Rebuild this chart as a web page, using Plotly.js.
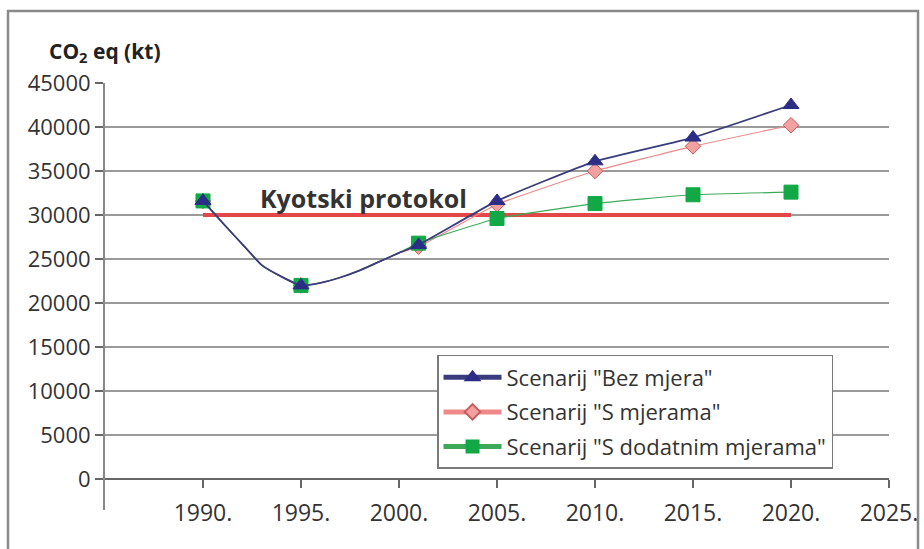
<!DOCTYPE html>
<html>
<head>
<meta charset="utf-8">
<script src="https://cdn.plot.ly/plotly-3.0.1.min.js"></script>
<style>
  html, body { margin: 0; padding: 0; background: #ffffff; }
  #chart { width: 924px; height: 549px; }
</style>
</head>
<body>
<div id="chart"></div>
<script>
// ---- data ----
// shared historical emissions (kt CO2 eq)
var histYears = [1990, 1991, 1992, 1993, 1994, 1995, 1996, 1997, 1998, 1999, 2000];
var histValues = [31600, 29100, 26700, 24300, 23000, 22000, 22300, 22900, 23700, 24700, 25700];

// scenario years and values
var scenYears = [2001, 2005, 2010, 2015, 2020];
var bezMjera = [26600, 31600, 36100, 38800, 42500];
var sMjerama = [26400, 31200, 35000, 37800, 40200];
var sDodatnim = [26800, 29600, 31300, 32300, 32600];

// years where markers are shown
var markedYears = [1990, 1995, 2001, 2005, 2010, 2015, 2020];

// Kyoto target
var kyotoYears = [1990, 2020];
var kyotoValues = [30000, 30000];

// series names
var seriesNames = ['Scenarij "Bez mjera"', 'Scenarij "S mjerama"', 'Scenarij "S dodatnim mjerama"'];

// axis ticks
var xTickVals = [1990, 1995, 2000, 2005, 2010, 2015, 2020, 2025];
var xTickText = ['1990.', '1995.', '2000.', '2005.', '2010.', '2015.', '2020.', '2025.'];
var yTickVals = [0, 5000, 10000, 15000, 20000, 25000, 30000, 35000, 40000, 45000];
var yTickText = ['0', '5000', '10000', '15000', '20000', '25000', '30000', '35000', '40000', '45000'];

// ---- build ----
var FONT = 'Open Sans, Noto Sans, sans-serif';

function series(scen, name, color, lineColor, symbol, size, lineW, mlineColor, rank) {
  var x = histYears.concat(scenYears);
  var y = histValues.concat(scen);
  var sizes = x.map(function (yr) { return markedYears.indexOf(yr) >= 0 ? size : 0; });
  return {
    x: x, y: y, name: name, type: 'scatter', mode: 'lines+markers',
    legendgroup: 'g' + rank,
    line: { color: lineColor, width: lineW, shape: 'spline', smoothing: 0.4 },
    marker: { symbol: symbol, size: sizes, color: color, opacity: 1, line: { color: mlineColor, width: 1 } },
    legendrank: rank, hoverinfo: 'x+y'
  };
}

var traces = [
  {
    x: kyotoYears, y: kyotoValues, type: 'scatter', mode: 'lines',
    line: { color: '#E2474A', width: 4 }, showlegend: false, hoverinfo: 'skip'
  },
  series(sMjerama, seriesNames[1], '#F2A0A0', '#F08A8A', 'diamond', 12, 1.2, '#C85A5A', 2),
  series(sDodatnim, seriesNames[2], '#12A846', '#3DAA5A', 'square', 14, 1.2, '#12A846', 3),
  series(bezMjera, seriesNames[0], '#2B2D86', '#3A3C7E', 'triangle-up', 14, 1.8, '#2B2D86', 1)
];

var yMin = -3520, yMax = 45000;
var xPos = (0 - yMin) / (yMax - yMin);

var layout = {
  width: 924, height: 549,
  margin: { l: 105, r: 35, t: 83, b: 39 },
  paper_bgcolor: '#ffffff', plot_bgcolor: '#ffffff',
  font: { family: FONT, color: '#333333', size: 20 },
  showlegend: true,
  legend: {
    x: 0.4235, y: 0.363, xanchor: 'left', yanchor: 'top',
    bgcolor: '#ffffff', bordercolor: '#7a7a7a', borderwidth: 1.5,
    font: { family: FONT, size: 22, color: '#333333' },
    itemsizing: 'constant', traceorder: 'grouped', tracegroupgap: 3,
    itemwidth: 58
  },
  xaxis: {
    range: [1985, 2025], anchor: 'free', position: xPos,
    tickvals: xTickVals, ticktext: xTickText,
    ticks: 'outside', ticklen: 8, tickwidth: 1.5, tickcolor: '#666',
    ticklabelstandoff: 5,
    showline: true, linecolor: '#666', linewidth: 2,
    showgrid: false, zeroline: false,
    tickfont: { family: FONT, size: 23, color: '#333' }
  },
  yaxis: {
    range: [yMin, yMax], tickvals: yTickVals, ticktext: yTickText,
    ticks: 'outside', ticklen: 8, tickwidth: 1.5, tickcolor: '#666',
    showline: true, linecolor: '#888', linewidth: 2,
    showgrid: true, gridcolor: '#9a9a9a', gridwidth: 2,
    zeroline: false,
    tickfont: { family: FONT, size: 22, color: '#333' }
  },
  annotations: [
    {
      text: '<b>CO<sub>2</sub> eq (kt)</b>', xref: 'paper', yref: 'paper',
      x: 0, y: 1.072, xanchor: 'center', yanchor: 'middle', showarrow: false,
      font: { family: FONT, size: 21, color: '#222' }
    },
    {
      text: '<b>Kyotski protokol</b>', xref: 'x', yref: 'y',
      x: 1998.2, y: 31900, xanchor: 'center', yanchor: 'middle', showarrow: false,
      font: { family: FONT, size: 25, color: '#333' }
    }
  ],
  shapes: [
    {
      type: 'rect', xref: 'paper', yref: 'paper',
      x0: -0.1237, x1: 1.037, y0: -0.1, y1: 1.1686,
      line: { color: '#8a8a8a', width: 2.5 }, fillcolor: 'rgba(0,0,0,0)', layer: 'below'
    }
  ]
};

Plotly.newPlot('chart', traces, layout, { displayModeBar: false, staticPlot: true });
</script>
</body>
</html>
